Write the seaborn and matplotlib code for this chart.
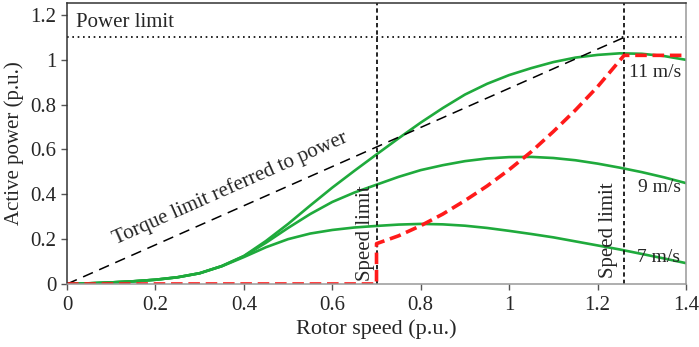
import numpy as np
import pandas as pd
import seaborn as sns
import matplotlib
matplotlib.use("Agg")
import matplotlib.pyplot as plt

# -------------------------
# data
# -------------------------
speed = [0.0, 0.05, 0.1, 0.15, 0.2, 0.25, 0.3, 0.35, 0.4, 0.45, 0.5, 0.55, 0.6, 0.65,
         0.7, 0.75, 0.8, 0.85, 0.9, 0.95, 1.0, 1.05, 1.1, 1.15, 1.2, 1.25, 1.3, 1.35, 1.4]

p_11 = [0.0, 0.003, 0.007, 0.012, 0.019, 0.03, 0.048, 0.08, 0.125, 0.192, 0.268, 0.35, 0.43, 0.505,
        0.578, 0.65, 0.72, 0.785, 0.845, 0.893, 0.932, 0.963, 0.99, 1.01, 1.022, 1.029, 1.027, 1.017, 1.0]
p_9 = [0.0, 0.003, 0.007, 0.012, 0.019, 0.03, 0.048, 0.08, 0.124, 0.184, 0.25, 0.312, 0.366, 0.408,
       0.443, 0.478, 0.508, 0.53, 0.548, 0.56, 0.566, 0.567, 0.562, 0.552, 0.537, 0.519, 0.499, 0.476, 0.45]
p_7 = [0.0, 0.003, 0.007, 0.012, 0.019, 0.03, 0.048, 0.079, 0.12, 0.164, 0.2, 0.225, 0.241, 0.252,
       0.259, 0.265, 0.268, 0.266, 0.26, 0.25, 0.237, 0.223, 0.208, 0.19, 0.172, 0.154, 0.134, 0.114, 0.093]

# operating trajectory (red)
op_speed = [0.0, 0.7, 0.7, 0.75, 0.8, 0.85, 0.9, 0.95, 1.0, 1.05, 1.1, 1.15, 1.2, 1.26, 1.4]
op_power = [0.0, 0.0, 0.18, 0.215, 0.26, 0.312, 0.372, 0.437, 0.51, 0.59, 0.68, 0.776, 0.88, 1.02, 1.02]

# limits
torque_speed = [0.0, 1.26]
torque_power = [0.0, 1.1]
speed_limits = [0.7, 1.26]
power_limit = 1.1

wind_labels = ["11 m/s", "9 m/s", "7 m/s"]
label_pos = [(1.271, 0.925), (1.292, 0.41), (1.29, 0.098)]

x_ticks = [0, 0.2, 0.4, 0.6, 0.8, 1, 1.2, 1.4]
y_ticks = [0, 0.2, 0.4, 0.6, 0.8, 1, 1.2]

# -------------------------
# plot
# -------------------------
sns.set_style("ticks")
plt.rcParams["font.family"] = ["Liberation Serif", "DejaVu Serif"]

fig = plt.figure(figsize=(6.99, 3.47), dpi=100)
ax = fig.add_axes([0.0959, 0.1816, 0.8855, 0.8094])

green = "#1faa3c"
df = pd.DataFrame({"speed": speed, "11": p_11, "9": p_9, "7": p_7})
for col in ["11", "9", "7"]:
    sns.lineplot(data=df, x="speed", y=col, color=green, lw=1.9,
                 estimator=None, sort=False, ax=ax)

sns.lineplot(x=torque_speed, y=torque_power, color="black", lw=1.1,
             estimator=None, ax=ax).lines[-1].set_dashes((7, 4.5))

ax.axhline(power_limit, color="black", lw=1.2, dashes=(1, 2.2))
for s in speed_limits:
    ax.axvline(s, color="black", lw=1.2, dashes=(2.6, 1.8))

sns.lineplot(x=op_speed, y=op_power, color="#ff1a1a", lw=2.6,
             estimator=None, sort=False, ax=ax).lines[-1].set_dashes((3.2, 1.6))

# annotations
ax.text(0.02, 1.145, "Power limit", fontsize=15, ha="left", va="baseline")
ax.text(0.37, 0.425, "Torque limit referred to power", fontsize=15,
        rotation=23.9, rotation_mode="anchor", ha="center", va="center")
ax.text(0.697, 0.015, "Speed limit", fontsize=15, rotation=90, ha="right", va="bottom")
ax.text(1.247, 0.025, "Speed limit", fontsize=15, rotation=90, ha="right", va="bottom")
for lab, (x, y) in zip(wind_labels, label_pos):
    ax.text(x, y, lab, fontsize=14, ha="left", va="baseline")

ax.set_xlim(0, 1.4)
ax.set_ylim(0, 1.253)
ax.set_xticks(x_ticks)
ax.set_yticks(y_ticks)
ax.set_xticklabels(["0", "0.2", "0.4", "0.6", "0.8", "1", "1.2", "1.4"])
ax.set_yticklabels(["0", "0.2", "0.4", "0.6", "0.8", "1", "1.2"])
ax.tick_params(axis="both", labelsize=15, length=4, width=1, direction="out", color="#555")
ax.tick_params(axis="x", pad=5)
ax.set_xlabel("Rotor speed (p.u.)", fontsize=16, labelpad=3)
ax.set_ylabel("Active power (p.u.)", fontsize=15, labelpad=5)

for side in ["left", "top"]:
    ax.spines[side].set_color("#333333")
for side in ["bottom", "right"]:
    ax.spines[side].set_color("#999999")
for side in ax.spines:
    ax.spines[side].set_visible(True)
    ax.spines[side].set_linewidth(1.1)

fig.savefig("out.png", dpi=100)
